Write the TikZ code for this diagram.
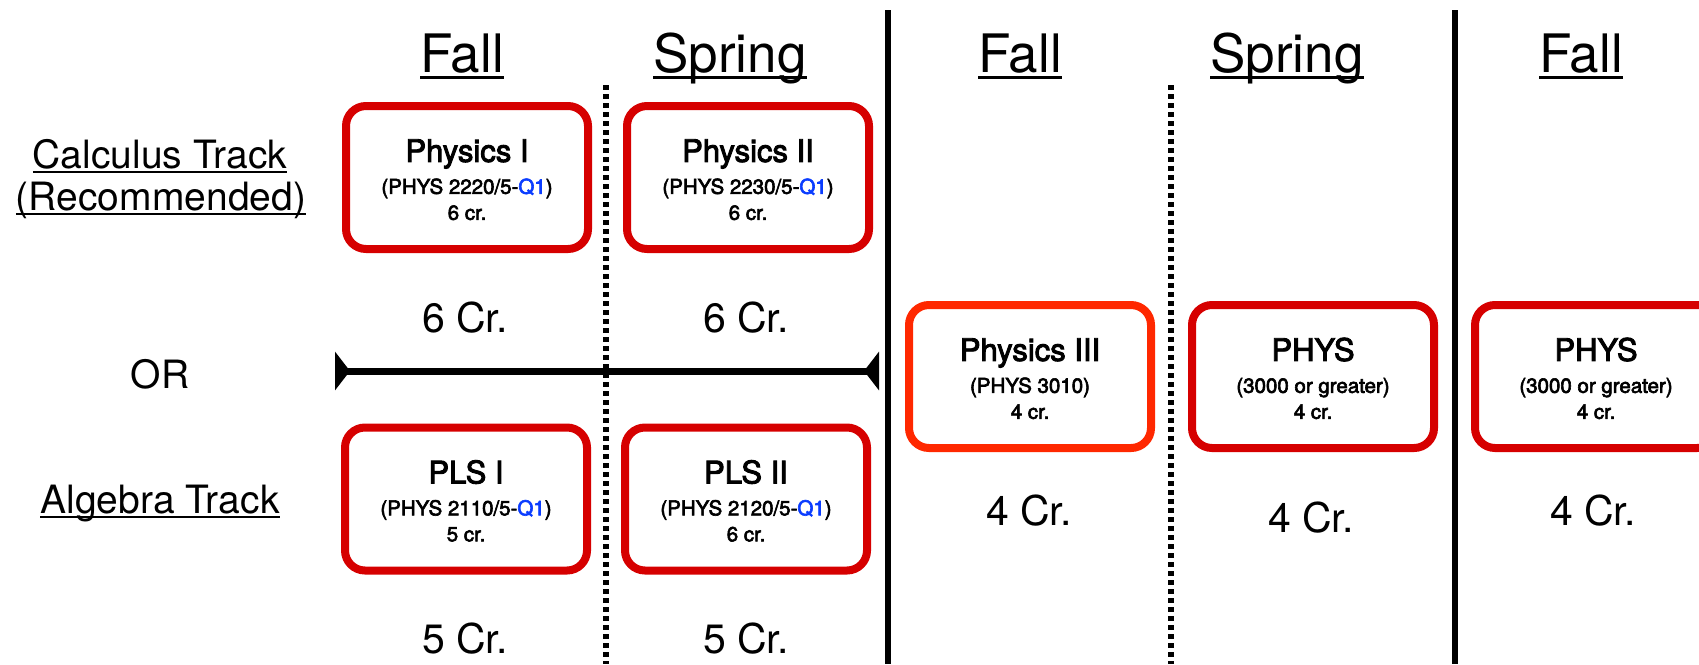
\documentclass[tikz,border=0pt]{standalone}
\usepackage{fontspec}
\setmainfont{TeX Gyre Heros}
\newfontfamily\boxfont{TeX Gyre Heros}[FakeBold=3]
\usetikzlibrary{arrows.meta}
\definecolor{boxred}{RGB}{214,0,0}
\definecolor{boxorange}{RGB}{255,40,0}
\definecolor{qblue}{RGB}{10,60,255}
\newcommand{\qone}{\textcolor{qblue}{Q1}}
\newcommand{\undl}[1]{\setbox0=\hbox{#1}\rlap{\vrule height -.07em depth .125em width \wd0}\box0}
\newcommand{\coursetext}[3]{{\fontsize{31}{31}\selectfont\rule{0pt}{27pt}#1}\\[6pt]#2\\#3}

\begin{document}
\begin{tikzpicture}[x=1pt,y=-1pt,
	course/.style={draw=boxred, line width=8pt, rounded corners=20pt, minimum width=242pt, minimum height=143pt, align=center, inner sep=0pt, font=\boxfont\fontsize{20.5}{26}\selectfont},
	header/.style={anchor=base, inner sep=0pt, font=\fontsize{53}{53}\selectfont},
	track/.style={anchor=base, inner sep=0pt, font=\fontsize{39}{39}\selectfont},
	credit/.style={anchor=base, inner sep=0pt, font=\fontsize{41}{41}\selectfont},
	yearline/.style={line width=6pt},
	termline/.style={line width=5.5pt, dash pattern=on 4.5pt off 4.5pt}]

		\useasboundingbox (0,0) rectangle (1699,664);
		\clip (0,0) rectangle (1699,664);

		\coordinate (y1t) at (888,10);  \coordinate (y1b) at (888,664);
		\coordinate (y2t) at (1455,10); \coordinate (y2b) at (1455,664);
		\coordinate (s1t) at (606,85);  \coordinate (s1b) at (606,664);
		\coordinate (s2t) at (1171,85); \coordinate (s2b) at (1171,664);
		\draw[yearline] (y1t) -- (y1b); \draw[yearline] (y2t) -- (y2b);
		\draw[termline] (s1t) -- (s1b); \draw[termline] (s2t) -- (s2b);

		\node[header] (h1) at ( 462,72) {\undl{Fall}};
		\node[header] (h2) at ( 730,72) {\undl{Spring}};
		\node[header] (h3) at (1020,72) {\undl{Fall}};
		\node[header] (h4) at (1287,72) {\undl{Spring}};
		\node[header] (h5) at (1581,72) {\undl{Fall}};

		\node[track] (calc) at (160,168) {\undl{Calculus Track}};
		\node[track] (rec)  at (161,210) {\undl{(Recommended)}};
		\node[track] (or)   at (160,388) {OR};
		\node[track] (alg)  at (160,513) {\undl{Algebra Track}};

		\node[course] (phys1) at ( 467,177.5) {\coursetext{Physics I}{(PHYS 2220/5-\qone)}{6 cr.}};
		\node[course] (phys2) at ( 748,177.5) {\coursetext{Physics II}{(PHYS 2230/5-\qone)}{6 cr.}};
		\node[course] (pls1)  at ( 466,499)   {\coursetext{PLS I}{(PHYS 2110/5-\qone)}{5 cr.}};
		\node[course] (pls2)  at ( 746,499)   {\coursetext{PLS II}{(PHYS 2120/5-\qone)}{6 cr.}};
		\node[course, draw=boxorange] (phys3) at (1030,376.5) {\coursetext{Physics III}{(PHYS 3010)}{4 cr.}};
		\node[course] (up1)   at (1313,376.5) {\coursetext{PHYS}{(3000 or greater)}{4 cr.}};
		\node[course] (up2)   at (1596,376.5) {\coursetext{PHYS}{(3000 or greater)}{4 cr.}};

		\node[credit] (c1) at ( 465,332) {6 Cr.};
		\node[credit] (c2) at ( 746,332) {6 Cr.};
		\node[credit] (c3) at ( 465,653) {5 Cr.};
		\node[credit] (c4) at ( 746,653) {5 Cr.};
		\node[credit] (c5) at (1029,525) {4 Cr.};
		\node[credit] (c6) at (1311,532) {4 Cr.};
		\node[credit] (c7) at (1593,525) {4 Cr.};

		\coordinate (orl) at (335,371); \coordinate (orr) at (879,371);
		\draw[line width=7pt, {Triangle[reversed,length=15pt,width=38pt]}-{Triangle[reversed,length=15pt,width=38pt]}] (orl) -- (orr);

	\end{tikzpicture}
\end{document}
